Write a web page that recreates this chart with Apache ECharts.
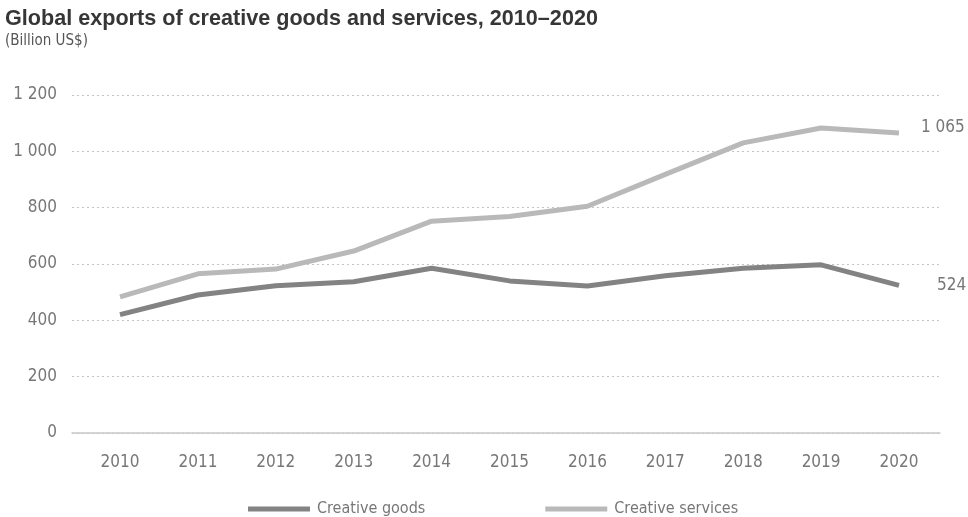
<!DOCTYPE html>
<html>
<head>
<meta charset="utf-8">
<script src="https://cdn.jsdelivr.net/npm/echarts@6/dist/echarts.min.js"></script>
<style>html,body{margin:0;padding:0;background:#fff;}#c{width:968px;height:517px;}</style>
</head>
<body>
<div id="c"></div>
<script>
const years = ['2010','2011','2012','2013','2014','2015','2016','2017','2018','2019','2020'];
const creativeGoods = [420, 490, 523, 537, 585, 540, 522, 558, 585, 597, 524];
const creativeServices = [483, 565, 582, 646, 752, 769, 805, 918, 1030, 1083, 1065];
const yTicks = [0, 200, 400, 600, 800, 1000, 1200];

const narrow = "'Liberation Sans Narrow','Arial Narrow','DejaVu Sans Condensed',sans-serif";
const fmt = v => String(v).replace(/\B(?=(\d{3})+(?!\d))/g, ' ');

const chart = echarts.init(document.getElementById('c'));
chart.setOption({
  animation: false,
  title: {
    text: 'Global exports of creative goods and services, 2010\u20132020',
    subtext: '(Billion US$)',
    left: 0, top: 3, itemGap: 4,
    textStyle: {fontFamily: "'Liberation Sans',Arial,sans-serif", fontSize: 21.6, fontWeight: 'bold', color: '#363636'},
    subtextStyle: {fontFamily: narrow, fontSize: 15, color: '#555'}
  },
  legend: {
    left: 243, top: 496,
    itemWidth: 62, itemHeight: 5, itemGap: 120,
    icon: 'rect',
    textStyle: {fontFamily: narrow, fontSize: 16, color: '#777', padding: [0,0,0,2]},
    data: ['Creative goods', 'Creative services']
  },
  grid: [
    {left: 72, right: 28, top: 95, bottom: 84},
    {left: 120, right: 69, top: 95, bottom: 84}
  ],
  xAxis: [
    {gridIndex: 0, type: 'value', min: 0, max: 1,
     axisLine: {show: true, lineStyle: {color: '#c8c8c8', width: 1.5}},
     axisTick: {show: false}, axisLabel: {show: false}, splitLine: {show: false}},
    {gridIndex: 1, type: 'category', data: years, boundaryGap: false,
     axisLine: {show: false}, axisTick: {show: false},
     axisLabel: {margin: 21, fontFamily: narrow, fontSize: 17, color: '#777'}}
  ],
  yAxis: [
    {gridIndex: 0, type: 'value', min: yTicks[0], max: yTicks[yTicks.length-1], interval: 200,
     axisLine: {show: false}, axisTick: {show: false},
     axisLabel: {margin: 15, fontFamily: narrow, fontSize: 17, color: '#777', formatter: v => fmt(v)},
     splitLine: {show: true, lineStyle: {color: '#c4c4c4', type: [2, 3], width: 1}}},
    {gridIndex: 1, type: 'value', min: 0, max: 1200, interval: 200, show: false, splitLine: {show: false}}
  ],
  series: [
    {name: 'Creative goods', type: 'line', xAxisIndex: 1, yAxisIndex: 1, data: creativeGoods,
     symbol: 'none', color: '#838383',
     lineStyle: {width: 5, color: '#838383', join: 'round'},
     endLabel: {show: true, distance: 38, formatter: p => fmt(p.value), fontFamily: narrow, fontSize: 17, color: '#777'}},
    {name: 'Creative services', type: 'line', xAxisIndex: 1, yAxisIndex: 1, data: creativeServices,
     symbol: 'none', color: '#b9b9b9',
     lineStyle: {width: 5, color: '#b9b9b9', join: 'round'},
     endLabel: {show: true, distance: 22, offset: [0, -5], formatter: p => fmt(p.value), fontFamily: narrow, fontSize: 17, color: '#777'}}
  ]
});
</script>
</body>
</html>
